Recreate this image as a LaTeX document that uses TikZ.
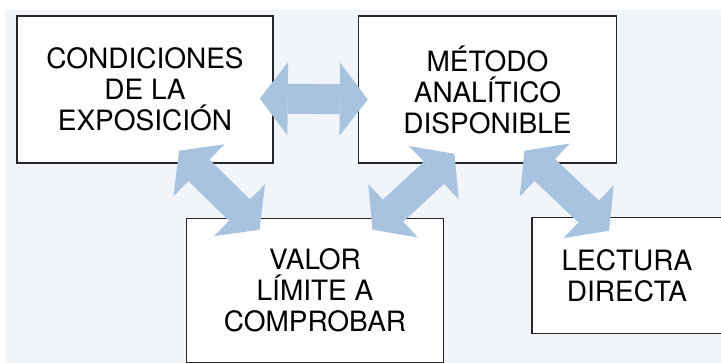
\documentclass[tikz,border=0pt]{standalone}
\usepackage{fontspec}
\setmainfont{TeX Gyre Heros}
\usetikzlibrary{positioning,arrows.meta}
\definecolor{fondo}{RGB}{241,245,250}
\definecolor{flecha}{RGB}{168,195,224}

\begin{document}
\begin{tikzpicture}[x=1pt, y=1pt, >={Triangle[width=73pt,length=28pt,line width=0pt]}, font=\fontsize{28}{31}\selectfont]
      \tikzstyle{box}=[rectangle, draw=black!85, line width=1.5pt, fill=white, align=center, inner sep=0pt, minimum width=256pt, minimum height=147pt]
      \tikzstyle{link}=[<->, color=flecha, line width=30pt]
      \useasboundingbox (0,0) rectangle (721,-363);
      \fill[fondo] (5,-10) rectangle (721,-363);
      \node[box] (cond) at (145,-89.5) {CONDICIONES\\DE LA\\EXPOSICIÓN};
      \node[box, minimum width=258pt] (metodo) [right=84pt of cond] {MÉTODO\\ANALÍTICO\\DISPONIBLE};
      \node[box, minimum width=257pt, minimum height=144pt] (valor) [below right=54pt and -88pt of cond] {VALOR\\LÍMITE A\\COMPROBAR};
      \node[box, minimum width=190pt, minimum height=116pt] (lectura) [below right=53pt and -86pt of metodo] {LECTURA\\DIRECTA};
      \path[link]
      ([xshift=-14pt,yshift=-9pt]cond.east) edge ([xshift=10pt,yshift=-10pt]metodo.west)
      ([xshift=34pt,yshift=13pt]cond.south) edge ([xshift=-55.5pt,yshift=-12pt]valor.north)
      ([xshift=57.5pt,yshift=-12pt]valor.north) edge ([xshift=-33pt,yshift=10pt]metodo.south)
      ([xshift=37pt,yshift=13pt]metodo.south) edge ([xshift=-18pt,yshift=-14pt]lectura.north);
\end{tikzpicture}
\end{document}
